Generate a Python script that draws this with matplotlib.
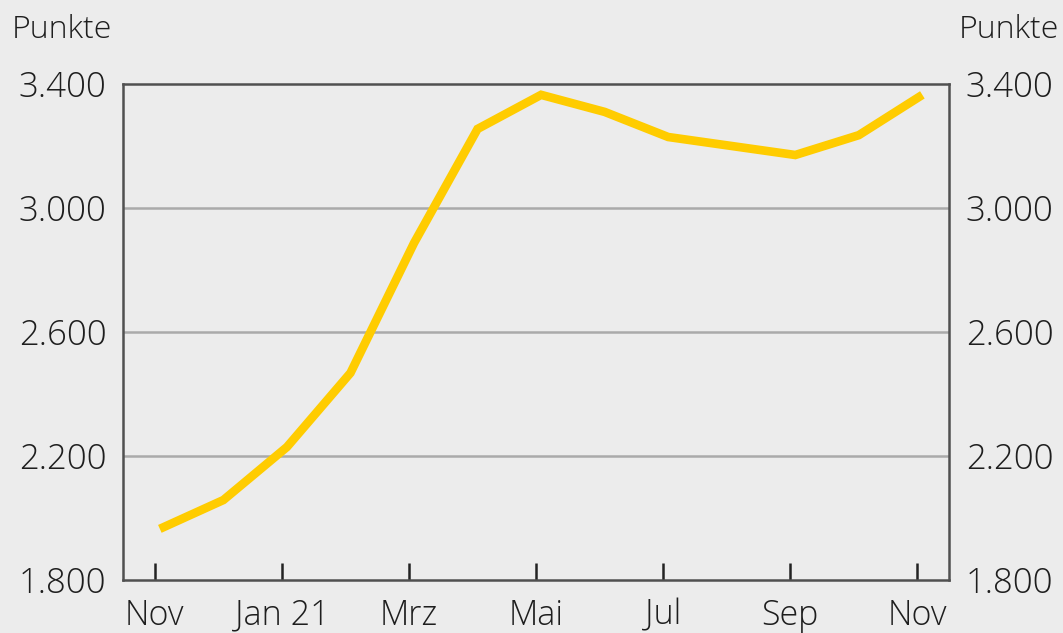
import numpy as np
import matplotlib.pyplot as plt

plt.rcParams['font.family'] = ['Open Sans', 'DejaVu Sans']
plt.rcParams['font.weight'] = 'light'

# monthly index values, Nov 2020 .. Nov 2021
months = np.arange(13)
values = [1965, 2058, 2229, 2468, 2887, 3255, 3365, 3310, 3229, 3200, 3171, 3235, 3365]

xtick_pos = [0, 2, 4, 6, 8, 10, 12]
xtick_labels = ['Nov', 'Jan 21', 'Mrz', 'Mai', 'Jul', 'Sep', 'Nov']
ytick_pos = [1800, 2200, 2600, 3000, 3400]
ytick_labels = ['1.800', '2.200', '2.600', '3.000', '3.400']

bg = '#ececec'
txt = '#1e1e1e'
edge = '#505050'

fig = plt.figure(figsize=(10.63, 6.33), dpi=100, facecolor=bg)
ax = fig.add_axes([0.1157, 0.0837, 0.7771, 0.7836], facecolor=bg)

for y in ytick_pos[1:-1]:
    ax.axhline(y, color='#aaaaaa', linewidth=1.8, zorder=1)

ax.plot(months + 0.08, values, color='#ffcc00', linewidth=6.2, zorder=3,
        solid_joinstyle='miter', solid_capstyle='butt')

ax.set_xlim(-0.5, 12.5)
ax.set_ylim(1800, 3400)

for s in ax.spines.values():
    s.set_color(edge)
    s.set_linewidth(1.8)

ax.set_xticks(xtick_pos)
ax.set_xticklabels(xtick_labels, fontsize=24.5, color=txt)
ax.tick_params(axis='x', direction='in', length=12, width=1.8, color='#222222', pad=13)

ax.set_yticks(ytick_pos)
ax.set_yticklabels(ytick_labels, fontsize=25, color=txt)
ax.tick_params(axis='y', length=0, pad=12, labelleft=True, labelright=True)

fig.text(0.011, 0.952, 'Punkte', fontsize=23, color=txt, ha='left', va='center')
fig.text(0.996, 0.952, 'Punkte', fontsize=23, color=txt, ha='right', va='center')

fig.savefig('out.png', dpi=100, facecolor=bg)
